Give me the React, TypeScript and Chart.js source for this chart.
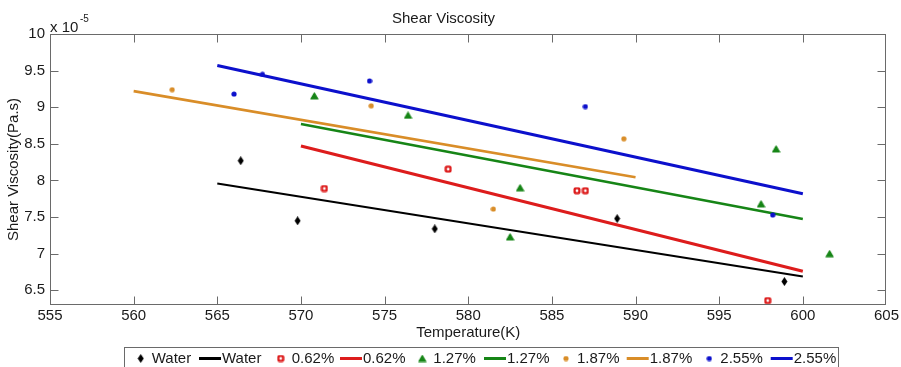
import React, { useEffect, useRef } from 'react';
import { Chart, registerables } from 'chart.js';

Chart.register(...registerables);

// ---------- data (viscosity in units of 1e-5 Pa.s) ----------
const SERIES_NAMES = ['Water', '0.62%', '1.27%', '1.87%', '2.55%'];

const WATER_T = [566.4, 569.8, 578.0, 588.9, 598.9];
const WATER_V = [8.27, 7.45, 7.34, 7.48, 6.62];
const WATER_FIT_T = [565, 600];
const WATER_FIT_V = [7.96, 6.69];

const P062_T = [571.4, 578.8, 586.5, 587.0, 597.9];
const P062_V = [7.89, 8.155, 7.86, 7.86, 6.36];
const P062_FIT_T = [570, 600];
const P062_FIT_V = [8.47, 6.76];

const P127_T = [570.8, 576.4, 583.1, 582.5, 597.5, 598.4, 601.6];
const P127_V = [9.155, 8.89, 7.9, 7.23, 7.68, 8.43, 7.0];
const P127_FIT_T = [570, 600];
const P127_FIT_V = [8.77, 7.475];

const P187_T = [562.3, 574.2, 581.5, 589.3];
const P187_V = [9.24, 9.02, 7.61, 8.57];
const P187_FIT_T = [560, 590];
const P187_FIT_V = [9.22, 8.045];

const P255_T = [566.0, 567.7, 574.1, 587.0, 598.2];
const P255_V = [9.18, 9.45, 9.36, 9.01, 7.53];
const P255_FIT_T = [565, 600];
const P255_FIT_V = [9.57, 7.82];

const X_MIN = 555;
const X_MAX = 605;
const X_STEP = 5;
const Y_MIN = 6.3;
const Y_MAX = 10;
const Y_TICKS = [6.5, 7, 7.5, 8, 8.5, 9, 9.5, 10];

// ---------- styles ----------
const COLORS = ['#000000', '#dd1c1c', '#168516', '#d98d28', '#0c10cc'];
const FIT_WIDTHS = [2, 3, 2.6, 2.6, 3];
const FONT = '"Liberation Sans", Arial, Helvetica, sans-serif';
const AXIS_COLOR = '#6a6a6a';
const TEXT_COLOR = '#1a1a1a';

function makeMarker(kind: string, color: string): HTMLCanvasElement {
  const c = document.createElement('canvas');
  const ctx = c.getContext('2d')!;
  if (kind === 'diamond') {
    c.width = 7; c.height = 9;
    ctx.fillStyle = color;
    ctx.beginPath();
    ctx.moveTo(3.5, 0); ctx.lineTo(6.5, 4.5); ctx.lineTo(3.5, 9); ctx.lineTo(0.5, 4.5);
    ctx.closePath(); ctx.fill();
  } else if (kind === 'ring') {
    c.width = 8; c.height = 8;
    ctx.fillStyle = color;
    ctx.beginPath();
    (ctx as any).roundRect(0.5, 0.5, 7, 7, 2);
    ctx.fill();
    ctx.fillStyle = '#ffffff';
    ctx.beginPath(); ctx.arc(4, 4, 1.4, 0, Math.PI * 2); ctx.fill();
  } else if (kind === 'tri') {
    c.width = 9; c.height = 8;
    ctx.fillStyle = color; ctx.strokeStyle = color; ctx.lineJoin = 'round'; ctx.lineWidth = 1.2;
    ctx.beginPath();
    ctx.moveTo(4.5, 1); ctx.lineTo(8, 7); ctx.lineTo(1, 7); ctx.closePath();
    ctx.fill(); ctx.stroke();
  } else {
    c.width = 6; c.height = 6;
    ctx.fillStyle = color;
    ctx.beginPath(); ctx.arc(3, 3, 2.6, 0, Math.PI * 2); ctx.fill();
  }
  return c;
}

const toPts = (xs: number[], ys: number[]) => xs.map((x, i) => ({ x, y: ys[i] }));

export default function App() {
  const ref = useRef<HTMLCanvasElement>(null);

  useEffect(() => {
    if (!ref.current) return;
    const markers = [
      makeMarker('diamond', COLORS[0]),
      makeMarker('ring', COLORS[1]),
      makeMarker('tri', COLORS[2]),
      makeMarker('dot', COLORS[3]),
      makeMarker('dot', COLORS[4]),
    ];
    const pts = [
      [WATER_T, WATER_V], [P062_T, P062_V], [P127_T, P127_V], [P187_T, P187_V], [P255_T, P255_V],
    ];
    const fits = [
      [WATER_FIT_T, WATER_FIT_V], [P062_FIT_T, P062_FIT_V], [P127_FIT_T, P127_FIT_V],
      [P187_FIT_T, P187_FIT_V], [P255_FIT_T, P255_FIT_V],
    ];
    const datasets: any[] = [];
    SERIES_NAMES.forEach((name, i) => {
      datasets.push({
        label: name,
        data: toPts(pts[i][0], pts[i][1]),
        showLine: false,
        pointStyle: markers[i],
        pointRadius: 3,
        pointHoverRadius: 3,
        order: 0,
      });
      datasets.push({
        label: name,
        data: toPts(fits[i][0], fits[i][1]),
        showLine: true,
        borderColor: COLORS[i],
        borderWidth: FIT_WIDTHS[i],
        pointRadius: 0,
        order: 1,
      });
    });

    const frame = {
      id: 'frame',
      afterDraw(chart: any) {
        const { ctx, chartArea } = chart;
        const { left, right, top, bottom } = chartArea;
        const xs = chart.scales.x;
        const ys = chart.scales.y;
        ctx.save();
        ctx.strokeStyle = AXIS_COLOR;
        ctx.lineWidth = 1;
        const L = Math.round(left) + 0.5, R = Math.round(right) - 0.5;
        const T = Math.round(top) + 0.5, B = Math.round(bottom) - 0.5;
        ctx.strokeRect(L, T, R - L, B - T);
        ctx.beginPath();
        for (let v = X_MIN + X_STEP; v < X_MAX; v += X_STEP) {
          const px = Math.round(xs.getPixelForValue(v)) + 0.5;
          ctx.moveTo(px, B); ctx.lineTo(px, B - 8);
          ctx.moveTo(px, T); ctx.lineTo(px, T + 8);
        }
        Y_TICKS.forEach((v) => {
          if (v >= Y_MAX) return;
          const py = Math.round(ys.getPixelForValue(v)) + 0.5;
          ctx.moveTo(L, py); ctx.lineTo(L + 8, py);
          ctx.moveTo(R, py); ctx.lineTo(R - 8, py);
        });
        ctx.stroke();

        // exponent
        ctx.fillStyle = TEXT_COLOR;
        ctx.textBaseline = 'alphabetic';
        ctx.textAlign = 'left';
        ctx.font = `15px ${FONT}`;
        ctx.fillText('x 10', left, 31.5);
        ctx.font = `10px ${FONT}`;
        ctx.fillText('-5', left + 30, 22);

        // legend
        const boxL = 124.5, boxT = 347.5, boxR = 838.5;
        ctx.strokeStyle = AXIS_COLOR;
        ctx.strokeRect(boxL, boxT, boxR - boxL, 30);
        const markerX = [140.7, 280.7, 422.3, 566, 709.3];
        const lineX = [199, 340, 484, 626.7, 770.7];
        const cy = 358.5;
        ctx.font = `15px ${FONT}`;
        ctx.textBaseline = 'middle';
        SERIES_NAMES.forEach((name, i) => {
          const m = markers[i];
          ctx.drawImage(m, markerX[i] - m.width / 2, cy - m.height / 2);
          ctx.fillStyle = TEXT_COLOR;
          ctx.fillText(name, markerX[i] + 11, cy);
          ctx.strokeStyle = COLORS[i];
          ctx.lineWidth = 3;
          ctx.beginPath();
          ctx.moveTo(lineX[i], cy); ctx.lineTo(lineX[i] + 22, cy);
          ctx.stroke();
          ctx.fillText(name, lineX[i] + 23, cy);
        });
        ctx.restore();
      },
    };

    const chart = new Chart(ref.current, {
      type: 'scatter',
      data: { datasets },
      options: {
        animation: false,
        responsive: false,
        events: [],
        layout: { padding: { left: 0, right: 14, top: 0, bottom: 0 } },
        plugins: {
          legend: { display: false },
          tooltip: { enabled: false },
          title: {
            display: true,
            text: 'Shear Viscosity',
            color: TEXT_COLOR,
            font: { family: FONT, size: 15, weight: 'normal', lineHeight: 1.2 },
            padding: { top: 10, bottom: 6 },
          },
        },
        scales: {
          x: {
            type: 'linear',
            min: X_MIN,
            max: X_MAX,
            grid: { display: false, drawTicks: false },
            border: { display: false },
            ticks: {
              stepSize: X_STEP,
              color: TEXT_COLOR,
              padding: 2,
              maxRotation: 0,
              font: { family: FONT, size: 15 },
              callback: (v: any) => `${v}`,
            },
            title: {
              display: true,
              text: 'Temperature(K)',
              color: TEXT_COLOR,
              font: { family: FONT, size: 15, lineHeight: 1.2 },
              padding: { top: 0, bottom: 25 },
            },
            afterFit: (s: any) => { s.height = 62; },
          },
          y: {
            type: 'linear',
            min: Y_MIN,
            max: Y_MAX,
            grid: { display: false, drawTicks: false },
            border: { display: false },
            afterBuildTicks: (s: any) => { s.ticks = Y_TICKS.map((v) => ({ value: v })); },
            ticks: {
              color: TEXT_COLOR,
              padding: 5,
              font: { family: FONT, size: 15 },
              callback: (v: any) => `${v}`,
            },
            title: {
              display: true,
              text: 'Shear Viscosity(Pa.s)',
              color: TEXT_COLOR,
              font: { family: FONT, size: 15, lineHeight: 1.2 },
              padding: { top: 5, bottom: 0 },
            },
            afterFit: (s: any) => { s.width = 50; },
          },
        },
      } as any,
      plugins: [frame],
    });
    return () => chart.destroy();
  }, []);

  return (
    <div style={{ position: 'absolute', left: 0, top: 0, width: 901, height: 367, background: '#fff' }}>
      <canvas ref={ref} width={901} height={367} style={{ display: 'block', width: 901, height: 367 }} />
    </div>
  );
}
